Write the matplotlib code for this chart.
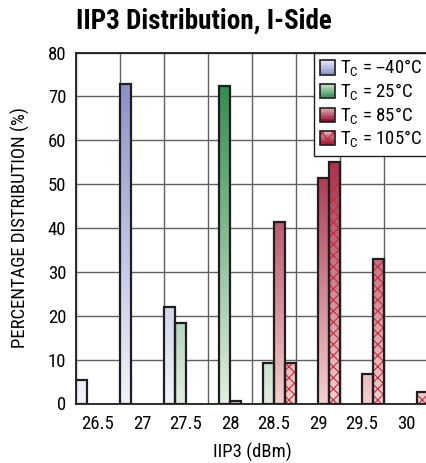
#!/usr/bin/env python3

import matplotlib
matplotlib.use('Agg')
import matplotlib.pyplot as plt
import numpy as np
from matplotlib import font_manager
from matplotlib.colors import LinearSegmentedColormap
from matplotlib.legend_handler import HandlerBase
from matplotlib.patches import Rectangle

names = {f.name for f in font_manager.fontManager.ttflist}
fam = 'Liberation Sans'
for cand in ['Liberation Sans Narrow', 'Roboto Condensed', 'Open Sans Condensed']:
    if cand in names:
        fam = cand
        break
plt.rcParams['font.family'] = [fam, 'DejaVu Sans']
plt.rcParams['hatch.linewidth'] = 0.8

# data
bins = ['26.5', '27', '27.5', '28', '28.5', '29', '29.5', '30']
series = ['T$_\\mathregular{C}$ = \u201340\u00b0C', 'T$_\\mathregular{C}$ = 25\u00b0C',
          'T$_\\mathregular{C}$ = 85\u00b0C', 'T$_\\mathregular{C}$ = 105\u00b0C']
t_m40 = [5.3, 72.8, 22.0, 0, 0, 0, 0, 0]
t_25 = [0, 0, 18.4, 72.4, 9.3, 0, 0, 0]
t_85 = [0, 0, 0, 0.5, 41.4, 51.3, 6.7, 0]
t_105 = [0, 0, 0, 0, 9.2, 55.1, 32.9, 2.7]
values = [t_m40, t_25, t_85, t_105]

cm_blue = LinearSegmentedColormap.from_list('b', ['#f2f3fb', '#8a90c8'])
cm_green = LinearSegmentedColormap.from_list('g', ['#e2eee0', '#2e8c4c'])
cm_red = LinearSegmentedColormap.from_list('r', ['#f3cfcc', '#8c0024'])
cmaps = [cm_blue, cm_green, cm_red, cm_red]
hatches = [None, None, None, 'xxx']
vmax = 74

fig = plt.figure(figsize=(4.27, 4.63), dpi=100)
ax = fig.add_axes([76 / 427, 1 - 403.5 / 463, 352 / 427, 351 / 463])

w = 0.25
x = np.arange(len(bins))
for j, vals in enumerate(values):
    for i, h in enumerate(vals):
        if h <= 0:
            continue
        x0 = i - 0.5 + j * w
        grad = np.linspace(0, h, 100).reshape(-1, 1)
        ax.imshow(grad, extent=[x0, x0 + w, 0, h], origin='lower', aspect='auto',
                  cmap=cmaps[j], vmin=0, vmax=vmax, zorder=3)
        if hatches[j]:
            ax.add_patch(Rectangle((x0, 0), w, h, facecolor='none', edgecolor='#c8283c',
                                   hatch=hatches[j], lw=0, zorder=4))
        ax.add_patch(Rectangle((x0, 0), w, h, facecolor='none', edgecolor='#1e1e1e',
                               lw=1.6, zorder=5))

ax.set_xlim(-0.5, len(bins) - 0.5)
ax.set_ylim(0, 80)
ax.set_xticks(x)
ax.set_xticklabels(bins)
ax.set_xticks(np.arange(-0.5, len(bins), 1), minor=True)
ax.set_yticks(np.arange(0, 81, 10))
ax.tick_params(axis='both', which='both', length=0, labelsize=13.5)
ax.tick_params(axis='x', pad=8)
ax.tick_params(axis='y', pad=7)
ax.grid(True, which='minor', axis='x', color='#606060', lw=1.0, zorder=0)
ax.grid(True, which='major', axis='y', color='#606060', lw=1.0, zorder=0)
for s in ax.spines.values():
    s.set_color('#1e1e1e')
    s.set_linewidth(1.3)
ax.spines['right'].set_visible(False)

ax.set_xlabel('IIP3 (dBm)', fontsize=13.5, labelpad=7)
ax.set_ylabel('PERCENTAGE DISTRIBUTION (%)', fontsize=13.5, labelpad=13)
fig.text(76 / 427, 1 - 21 / 463, 'IIP3 Distribution, I-Side', fontsize=19.5,
         fontweight='bold', ha='left', va='center')


class GradHandler(HandlerBase):
    def __init__(self, cmap, hatch=None):
        super().__init__()
        self.cmap = cmap
        self.hatch = hatch

    def create_artists(self, legend, orig_handle, xdescent, ydescent, width, height,
                       fontsize, trans):
        arts = []
        n = 10
        for k in range(n):
            c = self.cmap(0.95 - 0.8 * k / (n - 1))
            arts.append(Rectangle((-xdescent, -ydescent + height * k / n), width, height / n,
                                  facecolor=c, edgecolor='none', transform=trans))
        if self.hatch:
            arts.append(Rectangle((-xdescent, -ydescent), width, height, facecolor='none',
                                  edgecolor='#c8283c', hatch=self.hatch, lw=0, transform=trans))
        arts.append(Rectangle((-xdescent, -ydescent), width, height, facecolor='none',
                              edgecolor='#1e1e1e', lw=1.2, transform=trans))
        return arts


handles = [Rectangle((0, 0), 1, 1) for _ in series]
hmap = {h: GradHandler(cmaps[j], hatches[j]) for j, h in enumerate(handles)}
leg = ax.legend(handles, series, handler_map=hmap, loc='upper right', fontsize=13.5,
                handlelength=0.8, handleheight=0.8, handletextpad=0.3, labelspacing=0.12,
                borderaxespad=0, borderpad=0.3, fancybox=False, framealpha=1,
                edgecolor='#1e1e1e')
leg.get_frame().set_linewidth(1.0)
leg.set_zorder(10)

fig.savefig('out.png', dpi=100)
